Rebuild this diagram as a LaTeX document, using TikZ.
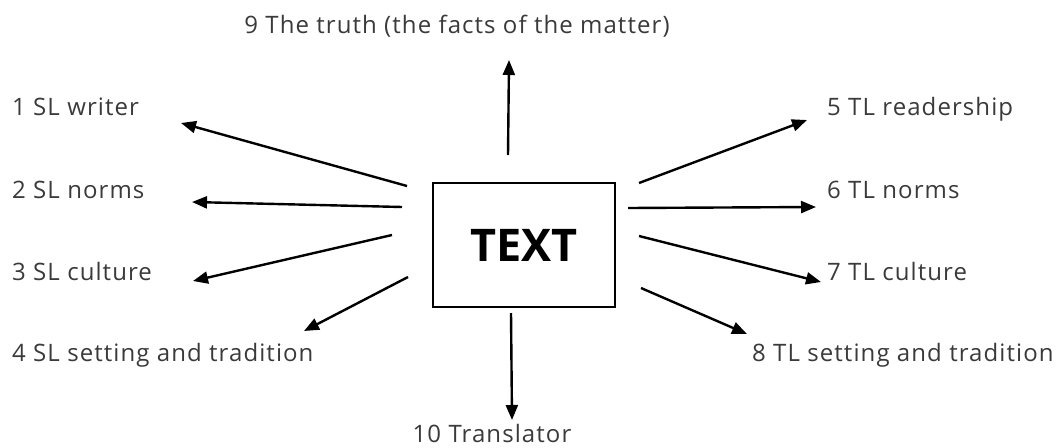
\documentclass[tikz,border=0pt]{standalone}
\usepackage{fontspec}
\setmainfont{Open Sans}
\newfontfamily\lblfont[LetterSpace=4.5]{Open Sans}
\usetikzlibrary{arrows.meta}
\definecolor{txt}{HTML}{3A3A3A}
\begin{document}
\begin{tikzpicture}[x=1pt,y=-1pt,
  lbl/.style={anchor=base west,inner sep=0pt,text=txt,font=\lblfont\fontsize{24}{28}\selectfont},
  arr/.style={line width=2.4pt,-{Triangle[length=15pt,width=12pt]}},
  boxst/.style={draw,line width=1.4pt,minimum width=182pt,minimum height=124pt,inner sep=0pt,font=\fontsize{45}{50}\selectfont\bfseries}]
\useasboundingbox (0,0) rectangle (1064,447);
\node[boxst] (box) at (524,245) {TEXT};
% labels
\node[lbl,anchor=base] (l9) at (457,33) {9 The truth (the facts of the matter)};
\node[lbl] (l1) at (12,115) {1 SL writer};
\node[lbl] (l2) at (12,198) {2 SL norms};
\node[lbl] (l3) at (12,280) {3 SL culture};
\node[lbl] (l4) at (12,361) {4 SL setting and tradition};
\node[lbl] (l5) at (827,115) {5 TL readership};
\node[lbl] (l6) at (827,198) {6 TL norms};
\node[lbl] (l7) at (827,280) {7 TL culture};
\node[lbl] (l8) at (752,361) {8 TL setting and tradition};
\node[lbl,anchor=base] (l10) at (492,442) {10 Translator};
% arrow ends
\coordinate (s1) at (407,186); \coordinate (e1) at (181,123);
\coordinate (s2) at (402,207); \coordinate (e2) at (192,202);
\coordinate (s3) at (392,235); \coordinate (e3) at (193,281);
\coordinate (s4) at (408,277); \coordinate (e4) at (304,331);
\coordinate (s5) at (639,183); \coordinate (e5) at (807,120);
\coordinate (s6) at (628,208); \coordinate (e6) at (816,207);
\coordinate (s7) at (639,236); \coordinate (e7) at (821,282);
\coordinate (s8) at (641,288); \coordinate (e8) at (747,334);
\coordinate (s9) at (508,155); \coordinate (e9) at (509,60);
\coordinate (s10) at (511,313); \coordinate (e10) at (512,420);
\foreach \i in {1,...,10} \draw[arr] (s\i) -- (e\i);
\end{tikzpicture}
\end{document}
